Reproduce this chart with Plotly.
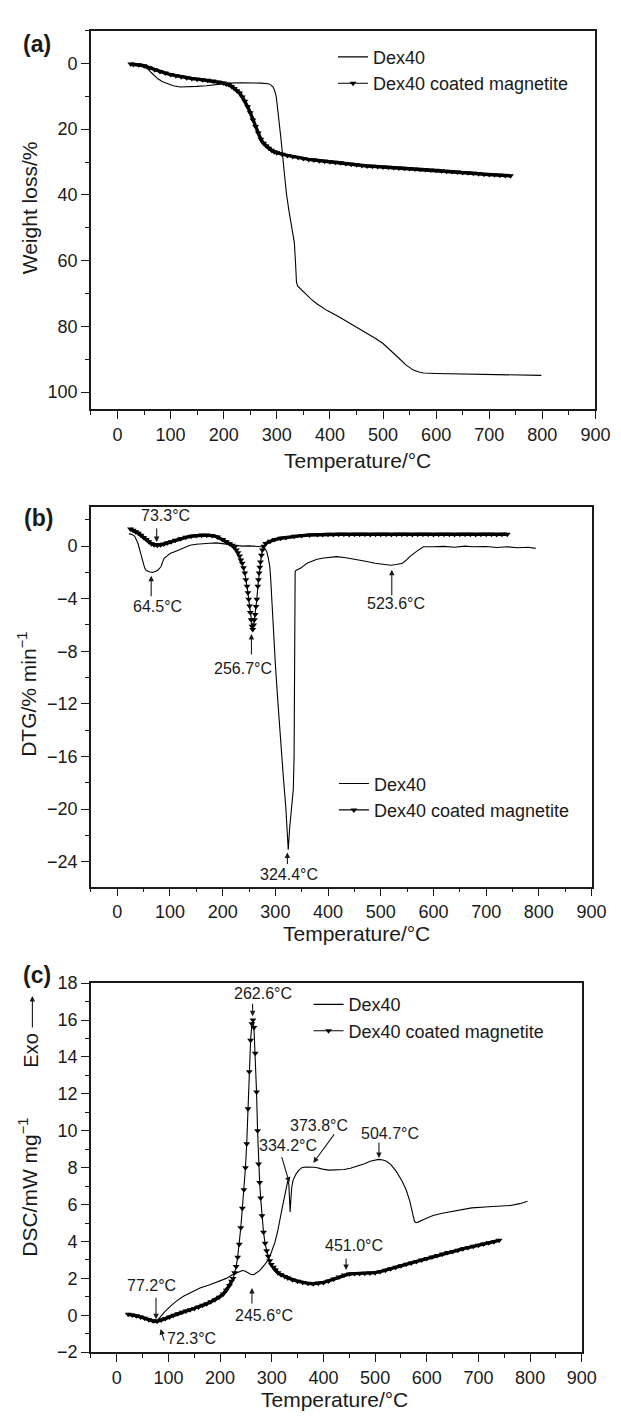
import plotly.graph_objects as go

FONT = "Liberation Sans, Arial, Helvetica, sans-serif"
INK = "#1a1a1a"
W, H = 621, 1416

SERIES = ["Dex40", "Dex40 coated magnetite"]
X_TICKS = [0, 100, 200, 300, 400, 500, 600, 700, 800, 900]

# ---------------- (a) TG: weight loss / % ----------------
a_dex_t = [23, 35, 45, 52, 57, 63, 69, 76, 84, 94, 105, 118, 133, 149, 167, 186, 210, 232, 253, 270,
           284, 289, 293, 296, 299, 302, 305, 308, 311, 314, 318, 323, 328, 333, 335, 337, 339, 345,
           354, 365, 376, 395, 416, 440, 458, 471, 486, 500, 515, 530, 543, 557, 568, 576, 600, 667,
           730, 798]
a_dex_w = [0.2, 0.3, 0.7, 1.2, 1.7, 2.7, 3.7, 4.7, 5.5, 6.2, 6.8, 7.2, 7.15, 7.0, 6.8, 6.5, 6.0, 5.9,
           5.9, 6.0, 6.2, 6.6, 7.2, 8.3, 10.2, 14.0, 18.2, 23.2, 28.2, 34.0, 39.5, 45.0, 50.0, 54.5,
           60.0, 66.5, 67.7, 68.7, 70.2, 71.8, 73.2, 75.2, 77.0, 79.3, 80.9, 82.2, 83.7, 85.2, 87.3,
           89.7, 91.7, 93.3, 93.9, 94.2, 94.35, 94.5, 94.7, 94.9]
a_mag_t = [25, 30, 40, 50, 60, 70, 80, 90, 100, 110, 120, 130, 140, 150, 160, 170, 180, 190, 200, 205,
           210, 215, 220, 225, 230, 235, 240, 245, 250, 255, 260, 265, 270, 275, 280, 285, 290, 295,
           300, 310, 320, 330, 340, 350, 360, 370, 380, 390, 400, 410, 420, 430, 440, 450, 460, 470,
           480, 490, 500, 510, 520, 530, 540, 550, 560, 570, 580, 590, 600, 610, 620, 630, 640, 650,
           660, 670, 680, 690, 700, 710, 720, 730, 740]
a_mag_w = [0.2, 0.3, 0.45, 0.7, 1.3, 1.9, 2.45, 2.95, 3.4, 3.75, 4.05, 4.4, 4.6, 4.8, 5.0, 5.15, 5.35,
           5.65, 6.0, 6.3, 6.5, 7.0, 7.6, 8.3, 9.0, 10.2, 11.5, 13.2, 15.0, 17.2, 19.2, 21.2, 23.1,
           24.3, 25.1, 25.8, 26.4, 26.9, 27.2, 27.6, 28.0, 28.35, 28.65, 28.9, 29.2, 29.4, 29.6, 29.8,
           29.95, 30.1, 30.25, 30.45, 30.65, 30.85, 31.05, 31.2, 31.3, 31.4, 31.5, 31.6, 31.7, 31.8,
           31.9, 32.0, 32.1, 32.2, 32.3, 32.4, 32.5, 32.65, 32.8, 32.9, 33.05, 33.2, 33.3, 33.45,
           33.55, 33.7, 33.8, 33.9, 34.0, 34.1, 34.2]

# ---------------- (b) DTG ----------------
b_dex_t = [22, 28, 33, 36, 39.4, 43, 45.7, 49, 52, 55, 58, 62, 67, 72, 76.5, 80, 83, 86, 89, 95, 101,
           110, 120, 129, 138, 150, 163, 175, 188, 200, 212, 225, 237, 250, 262, 274, 280, 283.5,
           286.5, 289.5, 291, 293, 296, 300, 305, 310, 315, 320, 324.4, 327, 331, 334, 335.5, 336.5,
           337, 337.5, 339, 348, 360, 370, 379, 392, 404, 416, 434, 453, 471, 489, 505, 519, 530, 541,
           549, 555, 568, 581, 600, 620, 640, 660, 673, 700, 720, 740, 760, 780, 794]
b_dex_d = [0.95, 0.88, 0.75, 0.5, 0.2, -0.35, -0.8, -1.3, -1.67, -1.85, -1.92, -1.97, -2.0, -1.95,
           -1.85, -1.7, -1.55, -1.2, -0.93, -0.72, -0.55, -0.4, -0.25, -0.1, 0.07, 0.14, 0.2, 0.22,
           0.25, 0.2, 0.15, 0.07, 0.0, 0.02, 0.0, -0.05, -0.2, -0.4, -0.9, -1.6, -2.4, -4.0, -6.5,
           -9.0, -12.0, -15.0, -17.5, -20.0, -23.1, -21.5, -20.0, -18.5, -16.0, -11.0, -5.0, -1.92,
           -1.85, -1.67, -1.3, -1.12, -1.0, -0.9, -0.85, -0.8, -0.88, -1.0, -1.15, -1.3, -1.4, -1.45,
           -1.4, -1.3, -1.05, -0.8, -0.4, -0.05, -0.05, -0.02, -0.08, 0.0, -0.05, -0.03, -0.1, -0.05,
           -0.12, -0.08, -0.17]
b_mag_t = [25, 30, 35, 40, 45, 50, 55, 60, 65, 70, 76, 82, 88, 95, 102, 110, 120, 130, 140, 150, 160,
           170, 180, 190, 200, 207, 213, 218, 222, 226, 229, 232, 234.5, 237, 239.5, 242, 244, 246.3,
           248, 249.4, 251, 252.4, 254, 255.6, 257, 258.7, 260.2, 261.7, 263.2, 264.8, 266.7, 268,
           269.1, 270.4, 271.7, 273.5, 275.4, 278, 281.5, 290, 298.7, 310, 320, 335.7, 350, 365, 380,
           390, 400, 410, 420, 430, 440, 450, 460, 470, 480, 490, 500, 510, 520, 530, 540, 550, 560,
           570, 580, 590, 600, 610, 620, 630, 640, 650, 660, 670, 680, 690, 700, 710, 720, 730, 740]
b_mag_d = [1.3, 1.2, 1.1, 0.98, 0.82, 0.66, 0.5, 0.33, 0.18, 0.1, 0.07, 0.1, 0.16, 0.25, 0.34, 0.45,
           0.57, 0.67, 0.75, 0.81, 0.83, 0.83, 0.8, 0.7, 0.5, 0.33, 0.18, 0.07, -0.1, -0.3, -0.5, -0.75,
           -1.05, -1.3, -1.65, -2.05, -2.55, -3.05, -3.55, -4.05, -4.55, -5.05, -5.6, -6.1, -6.35,
           -6.0, -5.6, -5.2, -4.6, -4.05, -3.05, -2.55, -2.05, -1.6, -1.2, -0.7, -0.3, 0.0, 0.2, 0.38,
           0.5, 0.6, 0.66, 0.75, 0.8, 0.85, 0.88, 0.88, 0.9, 0.88, 0.9, 0.9, 0.88, 0.9, 0.9, 0.9,
           0.88, 0.9, 0.9, 0.9, 0.88, 0.9, 0.9, 0.9, 0.88, 0.9, 0.9, 0.9, 0.88, 0.9, 0.9, 0.9, 0.88,
           0.9, 0.9, 0.9, 0.88, 0.9, 0.9, 0.9, 0.88, 0.9, 0.9]

# ---------------- (c) DSC ----------------
c_dex_t = [22, 30, 40, 50, 60, 66, 72.5, 78, 85, 93, 104, 116, 129, 145, 161, 180, 199, 212, 224, 235,
           243, 248, 253, 259, 265, 271, 277, 285, 293, 299, 306, 311, 315, 320, 324.5, 328, 331, 333,
           334.5, 335.5, 337, 338.5, 341, 346.5, 352, 358, 365, 373, 381, 388, 398, 410, 425, 440, 452,
           462, 478, 492, 500, 507, 515, 522, 530, 541, 552, 560, 567, 572, 576, 579, 583, 595, 612,
           630, 650, 668, 687, 720, 762, 780, 795]
c_dex_q = [0.05, 0.02, -0.06, -0.17, -0.3, -0.36, -0.4, -0.3, -0.05, 0.2, 0.5, 0.78, 1.03, 1.27, 1.48,
           1.66, 1.84, 2.0, 2.2, 2.35, 2.43, 2.4, 2.3, 2.22, 2.2, 2.3, 2.43, 2.7, 3.0, 3.4, 3.95, 4.5,
           5.0, 5.8, 6.4, 6.95, 7.3, 7.1, 6.2, 5.6, 6.3, 6.9, 7.3, 7.64, 7.85, 8.0, 8.04, 8.05, 8.02,
           8.0, 7.92, 7.87, 7.88, 7.9, 7.97, 8.05, 8.2, 8.36, 8.42, 8.45, 8.42, 8.35, 8.18, 7.8, 7.28,
           6.8, 6.2, 5.6, 5.1, 5.02, 5.05, 5.2, 5.41, 5.53, 5.64, 5.73, 5.82, 5.88, 5.95, 6.05, 6.18]
c_mag_t = [22, 30, 38, 46, 54, 62, 70, 78, 86, 94, 102, 110, 118, 126, 134, 142, 150, 158, 166, 174,
           182, 190, 198, 206, 212, 218, 222, 225, 228, 231, 234, 237, 240, 243, 246, 249, 251.5, 254,
           256.5, 259, 261.5, 263.5, 265.5, 268, 270.5, 272.5, 274.5, 276.5, 278.5, 281, 284, 287,
           290, 293, 296, 299, 303, 307, 312, 318, 325, 331, 340, 350, 360, 370, 380, 390, 400, 410,
           420, 430, 440, 450, 460, 470, 480, 490, 500, 510, 520, 530, 540, 550, 560, 570, 580, 590,
           600, 610, 620, 630, 640, 650, 660, 670, 680, 690, 700, 710, 720, 730, 740]
c_mag_q = [0.05, 0.02, -0.03, -0.09, -0.16, -0.24, -0.3, -0.32, -0.26, -0.18, -0.09, 0.0, 0.08, 0.16,
           0.23, 0.3, 0.37, 0.45, 0.54, 0.62, 0.73, 0.84, 0.98, 1.15, 1.35, 1.62, 1.85, 2.0, 2.3, 2.64,
           3.15, 3.85, 4.75, 5.8, 6.8, 8.0, 9.3, 11.2, 13.2, 14.9, 15.8, 16.0, 15.6, 14.2, 12.1, 10.0,
           8.2, 7.2, 6.35, 5.4, 4.5, 3.9, 3.5, 3.2, 2.95, 2.75, 2.6, 2.45, 2.3, 2.2, 2.1, 2.02, 1.93,
           1.85, 1.77, 1.73, 1.71, 1.73, 1.78, 1.86, 1.96, 2.07, 2.18, 2.24, 2.26, 2.27, 2.28, 2.29,
           2.31, 2.37, 2.44, 2.52, 2.6, 2.68, 2.76, 2.84, 2.92, 3.0, 3.08, 3.16, 3.24, 3.32, 3.4,
           3.46, 3.53, 3.6, 3.67, 3.74, 3.8, 3.87, 3.93, 3.99, 4.06]

# peak labels: (text, label x, label y, arrow-head x, arrow-head y)
b_peaks = [("73.3°C", 90.7, 2.33, 74.7, 0.32), ("64.5°C", 75.6, -4.61, 64.3, -2.25),
           ("256.7°C", 238.1, -9.3, 254.6, -6.68), ("324.4°C", 326.2, -24.98, 322.8, -23.3),
           ("523.6°C", 528.9, -4.35, 520.9, -1.8)]
c_peaks = [("262.6°C", 283.1, 17.44, 262.9, 16.21), ("373.8°C", 392.2, 10.28, 380.3, 8.26),
           ("334.2°C", 331.6, 9.21, 333.9, 7.19), ("504.7°C", 528.7, 9.86, 507.4, 8.53),
           ("451.0°C", 459.6, 3.8, 443.8, 2.46), ("77.2°C", 68.0, 1.6, 75.9, -0.21),
           ("245.6°C", 285.2, 0.0, 261.6, 1.48), ("72.3°C", 144.7, -1.27, 84.8, -0.75)]
# arrow tail offsets in pixels (layout only)
b_tails = [(0, -15), (0, 22), (0, 22), (0, 13), (0, 27)]
c_tails = [(0, -14), (22, -30), (-8, -27), (0, -17), (0, -13), (0, -23), (0, 17), (4, 13)]

# temperature windows where the densely sampled marker band thins out into separate markers
BAND_GAPS = [None, (221, 279), (223, 300)]


def px_x(p):
    return p / W


def px_y(p):
    return 1 - p / H


fig = go.Figure()

panels = [
    ("", a_dex_t, a_dex_w, a_mag_t, a_mag_w, "legend"),
    ("2", b_dex_t, b_dex_d, b_mag_t, b_mag_d, "legend2"),
    ("3", c_dex_t, c_dex_q, c_mag_t, c_mag_q, "legend3"),
]
for (s, tx, ty, mx, my, lg), gap in zip(panels, BAND_GAPS):
    # the overlapping-marker band of the coated sample
    if gap is None:
        band = list(my)
    else:
        band = [v if not (gap[0] < t < gap[1]) else None for t, v in zip(mx, my)]
    fig.add_trace(go.Scatter(x=mx, y=band, mode="lines", showlegend=False, hoverinfo="skip",
                             line=dict(color="black", width=3.4), connectgaps=False,
                             xaxis="x" + s, yaxis="y" + s))
    fig.add_trace(go.Scatter(x=tx, y=ty, mode="lines", name=SERIES[0],
                             line=dict(color="black", width=1.1),
                             xaxis="x" + s, yaxis="y" + s, legend=lg))
    fig.add_trace(go.Scatter(x=mx, y=my, mode="lines+markers", name=SERIES[1],
                             line=dict(color="black", width=1.1),
                             marker=dict(symbol="triangle-down", size=6, color="black",
                                         line=dict(width=0)),
                             xaxis="x" + s, yaxis="y" + s, legend=lg))


def xaxis(dom_px, anchor):
    return dict(domain=[px_x(dom_px[0]), px_x(dom_px[1])], anchor=anchor,
                range=[-50, 900], tickvals=X_TICKS, ticks="outside", ticklen=8,
                tickwidth=1.4, tickcolor=INK, showline=True, linecolor=INK, linewidth=1.5,
                mirror=True, showgrid=False, zeroline=False,
                tickfont=dict(size=18, color=INK, family=FONT),
                minor=dict(dtick=50, tick0=0, ticks="outside", ticklen=4, tickwidth=1.4,
                           tickcolor=INK, showgrid=False))


def yaxis(dom_py, anchor, rng, dtick, mdtick):
    return dict(domain=[px_y(dom_py[1]), px_y(dom_py[0])], anchor=anchor, range=rng,
                dtick=dtick, tick0=0, ticks="outside", ticklen=8, tickwidth=1.4,
                tickcolor=INK, showline=True, linecolor=INK, linewidth=1.5, mirror=True,
                showgrid=False, zeroline=False,
                tickfont=dict(size=18, color=INK, family=FONT),
                minor=dict(dtick=mdtick, tick0=0, ticks="outside", ticklen=4, tickwidth=1.4,
                           tickcolor=INK, showgrid=False))


ann = []


def text(x, y, s, size, xref="paper", yref="paper", angle=0, bold=False):
    ann.append(dict(x=x, y=y, xref=xref, yref=yref, text=("<b>%s</b>" % s) if bold else s,
                    showarrow=False, textangle=angle, xanchor="center", yanchor="middle",
                    font=dict(size=size, color=INK, family=FONT)))


def arrow(x, y, ax, ay, xref, yref):
    ann.append(dict(x=x, y=y, xref=xref, yref=yref, ax=ax, ay=ay, text="", showarrow=True,
                    arrowhead=2, arrowsize=1, arrowwidth=1.1, arrowcolor=INK))


# panel labels
text(px_x(30), px_y(26), "(a)", 23, bold=True)
text(px_x(31.5), px_y(507), "(b)", 23, bold=True)
text(px_x(30), px_y(971), "(c)", 23, bold=True)

# axis titles
text(px_x(21.5), px_y(192), "Weight loss/%", 21, angle=-90)
text(px_x(20), px_y(686), "DTG/% min<sup>−1</sup>", 21, angle=-90)
text(px_x(21), px_y(1186), "DSC/mW mg<sup>−1</sup>", 21, angle=-90)
text(px_x(24), px_y(1047), "Exo", 20, angle=-90)
arrow(px_x(25), px_y(992), 0, 33, "paper", "paper")
text(px_x(358.5), px_y(449), "Temperature/°C", 21)
text(px_x(357.5), px_y(929), "Temperature/°C", 21)
text(px_x(334.5), px_y(1401), "Temperature/°C", 21)

for (s, lx, ly, hx, hy), (tax, tay) in zip(b_peaks, b_tails):
    text(lx, ly, s, 16, "x2", "y2")
    arrow(hx, hy, tax, tay, "x2", "y2")
for (s, lx, ly, hx, hy), (tax, tay) in zip(c_peaks, c_tails):
    text(lx, ly, s, 16, "x3", "y3")
    arrow(hx, hy, tax, tay, "x3", "y3")


def legend(xp, yp):
    return dict(x=px_x(xp), y=px_y(yp), xanchor="left", yanchor="top",
                bgcolor="rgba(0,0,0,0)", borderwidth=0,
                font=dict(size=18, color=INK, family=FONT))


fig.update_layout(
    width=W, height=H, autosize=False,
    margin=dict(l=0, r=0, t=0, b=0, pad=0),
    paper_bgcolor="white", plot_bgcolor="white",
    font=dict(family=FONT, color=INK, size=18),
    xaxis=xaxis((85, 602), "y"),
    yaxis=yaxis((12.7, 397), "x", [105.25, -10], 20, 10),
    xaxis2=xaxis((85, 598), "y2"),
    yaxis2=yaxis((495.7, 881), "x2", [-25.9, 3.0], 4, 2),
    xaxis3=xaxis((85, 588), "y3"),
    yaxis3=yaxis((979, 1353.3), "x3", [-2, 18], 2, 1),
    legend=legend(333, 21),
    legend2=legend(334, 758),
    legend3=legend(308, 982),
    annotations=ann,
    showlegend=True,
)

fig.write_html("out.html")
